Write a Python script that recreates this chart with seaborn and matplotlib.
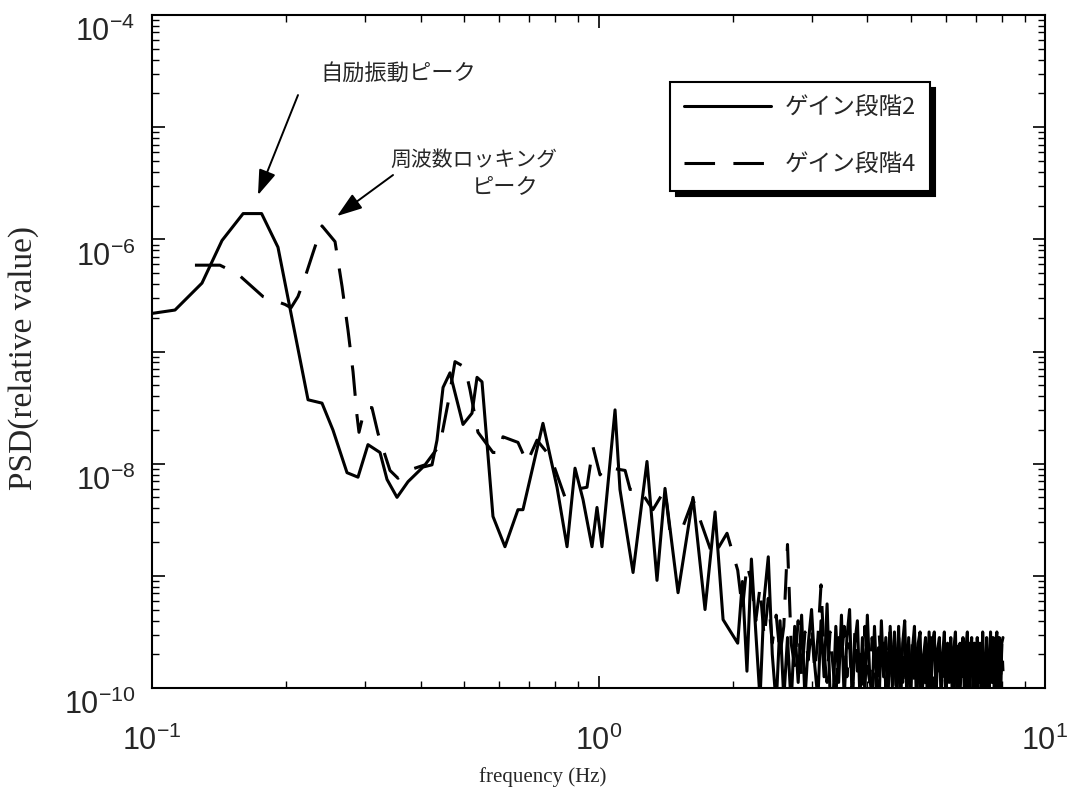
import numpy as np
import pandas as pd
import matplotlib
matplotlib.use("Agg")
import matplotlib.pyplot as plt
import matplotlib.ticker as mticker
from matplotlib.transforms import ScaledTranslation
import seaborn as sns

# ---------------- data ----------------
series_labels = ["ゲイン段階2", "ゲイン段階4"]

# gain stage 2 (solid) : low / mid frequency part, Hz and log10(PSD)
freq_g2_low = [0.100, 0.1126, 0.1294, 0.1435, 0.160, 0.176, 0.1915, 0.2037, 0.2236, 0.2403,
               0.2543, 0.2734, 0.2893, 0.3046, 0.3241, 0.336, 0.3538, 0.3745, 0.4045, 0.4238,
               0.4348, 0.4486, 0.4649, 0.4972, 0.5208, 0.5345, 0.5484, 0.5803, 0.6173, 0.6601,
               0.6773, 0.7509, 0.8074, 0.8502, 0.8859, 0.9233, 0.967, 0.9922, 1.018, 1.089,
               1.117, 1.195, 1.284, 1.352, 1.409, 1.507, 1.628, 1.732, 1.824, 1.901]
logpsd_g2_low = [-6.66, -6.63, -6.39, -6.01, -5.77, -5.77, -6.07, -6.61, -7.43, -7.46,
                 -7.70, -8.08, -8.12, -7.83, -7.90, -8.14, -8.30, -8.16, -8.03, -8.01,
                 -7.79, -7.32, -7.19, -7.65, -7.55, -7.23, -7.27, -8.47, -8.74, -8.41,
                 -8.41, -7.64, -8.21, -8.74, -8.04, -8.32, -8.74, -8.39, -8.74, -7.52,
                 -8.23, -8.97, -7.98, -9.04, -8.22, -9.15, -8.30, -9.30, -8.43, -9.39]
# gain stage 2 : high frequency noise floor, 2.05 .. 8.05 Hz (FFT bins)
logpsd_g2_noise = [
    -9.60, -9.05, -9.85, -8.85, -9.50, -10.1, -9.20, -8.83, -9.70, -10.15,
    -9.40, -10.1, -9.55, -10.15, -9.45, -9.95, -9.35, -10.1, -9.60, -9.30,
    -9.80, -10.1, -9.40, -9.90, -9.25, -10.05, -10.15, -9.45, -9.95, -9.35,
    -10.1, -9.55, -9.30, -10.15, -9.60, -9.40, -10.1, -9.55, -10.05, -9.35,
    -9.90, -10.1, -9.45, -9.95, -10.15, -9.40, -9.90, -9.55, -10.1, -9.45,
    -10.0, -9.50, -10.1, -9.45, -10.15, -9.60, -9.40, -10.05, -9.55, -10.1,
    -9.65, -9.45, -10.1, -9.60, -9.50, -10.15, -9.70, -9.55, -10.1, -9.50,
    -10.05, -9.60, -9.50, -10.1, -9.65, -9.55, -10.1, -9.70, -9.50, -10.15,
    -9.60, -9.95, -9.55, -10.1, -9.65, -9.50, -10.05, -10.15, -9.60, -9.90,
    -9.55, -10.1, -9.65, -9.50, -10.15, -9.70, -9.55, -10.05, -9.60, -10.1,
    -9.55, -9.95, -9.60, -10.1, -9.50, -9.90, -10.15, -9.55, -9.85, -10.05,
    -9.50, -9.95, -9.55, -10.1, -9.60, -9.50, -10.0, -9.55, -10.15, -9.60,
    -9.55]

# gain stage 4 (dashed)
freq_g4_low = [0.1248, 0.1420, 0.1558, 0.1773, 0.1986, 0.2048, 0.2123, 0.2201, 0.2294, 0.2403,
               0.2570, 0.2665, 0.2748, 0.2820, 0.2878, 0.2908, 0.2999, 0.3109, 0.3208, 0.3412,
               0.3556, 0.3745, 0.4088, 0.4416, 0.4602, 0.4771, 0.5023, 0.5154, 0.5371, 0.5803,
               0.6017, 0.6110, 0.6601, 0.6917, 0.7282, 0.7667, 0.7867, 0.8414, 0.8859, 0.9424,
               0.9720, 1.008, 1.034, 1.147, 1.177, 1.226, 1.324, 1.409, 1.446, 1.546,
               1.628, 1.805, 1.940]
logpsd_g4_low = [-6.23, -6.23, -6.31, -6.51, -6.58, -6.61, -6.51, -6.34, -6.12, -5.88,
                 -6.02, -6.42, -6.81, -7.18, -7.57, -7.72, -7.50, -7.50, -7.73, -8.06,
                 -8.13, -8.06, -8.01, -7.83, -7.46, -7.09, -7.14, -7.34, -7.72, -7.90,
                 -7.90, -7.76, -7.81, -7.99, -7.79, -7.90, -7.97, -8.30, -8.23, -8.21,
                 -7.85, -8.10, -8.03, -8.06, -8.23, -8.21, -8.41, -8.23, -8.61, -8.56,
                 -8.32, -8.83, -8.62]
logpsd_g4_noise = [
    -8.95, -9.30, -8.90, -9.05, -9.40, -9.10, -9.55, -9.20, -9.60, -9.35,
    -9.70, -9.45, -8.72, -9.60, -9.80, -9.40, -9.90, -9.50, -9.75, -9.45,
    -9.85, -9.55, -9.08, -9.70, -9.95, -9.50, -9.80, -10.1, -9.55, -9.75,
    -9.45, -9.90, -9.60, -10.1, -9.50, -9.85, -9.65, -10.05, -9.45, -9.80,
    -9.95, -9.55, -9.75, -10.1, -9.50, -9.85, -9.60, -10.0, -9.70, -9.50,
    -9.90, -9.65, -10.1, -9.55, -9.80, -9.95, -9.60, -10.05, -9.70, -9.85,
    -9.55, -10.0, -9.75, -9.60, -10.1, -9.80, -9.65, -9.95, -10.1, -9.70,
    -9.55, -9.90, -10.05, -9.70, -9.85, -9.60, -10.1, -9.75, -9.90, -9.65,
    -10.0, -9.80, -9.60, -9.95, -10.1, -9.70, -9.85, -9.55, -10.05, -9.75,
    -9.90, -9.65, -10.0, -9.80, -9.60, -10.1, -9.85, -9.70, -9.95, -9.60,
    -9.85, -10.05, -9.70, -9.55, -9.95, -9.80, -10.1, -9.65, -9.90, -9.75,
    -9.60, -9.95, -9.80, -10.05, -9.70, -9.55, -9.90, -9.75, -10.0, -9.60,
    -9.85]
noise_band = (2.05, 8.05)

x_ticks = [0.1, 1.0, 10.0]
y_exponents = [-10, -9, -8, -7, -6, -5, -4]

# ---------------- build table ----------------
f2 = np.concatenate([freq_g2_low, np.linspace(*noise_band, len(logpsd_g2_noise))])
p2 = 10.0 ** np.concatenate([logpsd_g2_low, logpsd_g2_noise])
f4 = np.concatenate([freq_g4_low, np.linspace(*noise_band, len(logpsd_g4_noise))])
p4 = 10.0 ** np.concatenate([logpsd_g4_low, logpsd_g4_noise])
df = pd.DataFrame({
    "freq": np.concatenate([f2, f4]),
    "psd": np.concatenate([p2, p4]),
    "series": [series_labels[0]] * len(f2) + [series_labels[1]] * len(f4),
})

# ---------------- style ----------------
sns.set_style("ticks")
plt.rcParams["font.family"] = ["Liberation Sans", "Noto Sans CJK JP", "DejaVu Sans"]
plt.rcParams["mathtext.fontset"] = "custom"
plt.rcParams["mathtext.rm"] = "Liberation Sans"
plt.rcParams["mathtext.it"] = "Liberation Sans:italic"
plt.rcParams["mathtext.bf"] = "Liberation Sans:bold"
plt.rcParams["axes.edgecolor"] = "black"
plt.rcParams["axes.linewidth"] = 1.5

fig = plt.figure(figsize=(10.68, 8.05), dpi=100)
ax = fig.add_axes([0.1423, 0.1453, 0.8362, 0.8360])
ax.set_xscale("log")
ax.set_yscale("log")

sns.lineplot(data=df, x="freq", y="psd", style="series", style_order=series_labels,
             dashes={series_labels[0]: "", series_labels[1]: (10, 6)},
             color="black", linewidth=2.2, estimator=None, errorbar=None,
             sort=False, legend=False, ax=ax)

ax.set_xlim(0.1, 10)
ax.set_ylim(1e-10, 1e-4)

ax.xaxis.set_major_locator(mticker.FixedLocator(x_ticks))
ax.xaxis.set_minor_locator(mticker.LogLocator(base=10, subs=np.arange(2, 10), numticks=100))
ax.xaxis.set_major_formatter(mticker.FuncFormatter(
    lambda v, p: r"$\mathregular{10^{%d}}$" % int(round(np.log10(v)))))
ax.xaxis.set_minor_formatter(mticker.NullFormatter())

ax.yaxis.set_major_locator(mticker.FixedLocator([10.0 ** e for e in y_exponents]))
ax.yaxis.set_minor_locator(mticker.LogLocator(base=10, subs=np.arange(2, 10), numticks=100))
ax.yaxis.set_major_formatter(mticker.FuncFormatter(
    lambda v, p: (r"$\mathregular{10^{%d}}$" % int(round(np.log10(v))))
    if int(round(np.log10(v))) % 2 == 0 else ""))
ax.yaxis.set_minor_formatter(mticker.NullFormatter())

ax.tick_params(which="both", direction="in", top=True, right=True, color="black")
ax.tick_params(which="major", length=9, width=1.2, labelsize=22)
ax.tick_params(which="minor", length=5, width=1.0)
ax.tick_params(axis="x", which="major", pad=27)
ax.tick_params(axis="y", which="major", pad=12)
for lbl in ax.get_yticklabels():
    lbl.set_transform(lbl.get_transform() + ScaledTranslation(0, -0.14, fig.dpi_scale_trans))

ax.set_xlabel("frequency (Hz)", family="Liberation Serif", fontsize=15)
ax.xaxis.set_label_coords(0.438, -0.117)
ax.set_ylabel("PSD(relative value)", family="Liberation Serif", fontsize=24)
ax.yaxis.set_label_coords(-0.126, 0.49)

jp = ["Noto Sans CJK JP", "DejaVu Sans"]
# legend
leg = ax.legend(handles=ax.lines[:2], labels=series_labels, loc="upper left",
                bbox_to_anchor=(0.58, 0.90), frameon=True, fancybox=False,
                edgecolor="black", framealpha=1,
                shadow={"ox": 4, "oy": -4, "color": "black", "alpha": 1},
                handlelength=3.7, handletextpad=0.55, labelspacing=1.45,
                borderpad=0.6, borderaxespad=0,
                prop={"family": jp, "size": 17})
leg.get_frame().set_linewidth(1.5)

# annotations
arrow_kw = dict(arrowstyle="-|>,head_length=1.1,head_width=0.38", mutation_scale=14,
                color="black", lw=1.4, shrinkA=0, shrinkB=0)
ax.text(0.2755, 0.9138, "自励振動ピーク", transform=ax.transAxes, ha="center", va="center",
        fontsize=16, family=jp)
ax.annotate("", xy=(0.1187, 0.7325), xycoords="axes fraction",
            xytext=(0.1635, 0.8811), textcoords="axes fraction", arrowprops=arrow_kw)
ax.text(0.3606, 0.7845, "周波数ロッキング", transform=ax.transAxes, ha="center", va="center",
        fontsize=15, family=jp)
ax.text(0.3953, 0.7459, "ピーク", transform=ax.transAxes, ha="center", va="center",
        fontsize=16, family=jp)
ax.annotate("", xy=(0.2072, 0.7013), xycoords="axes fraction",
            xytext=(0.2699, 0.7623), textcoords="axes fraction", arrowprops=arrow_kw)

fig.savefig("out.png", dpi=100, facecolor="white")
